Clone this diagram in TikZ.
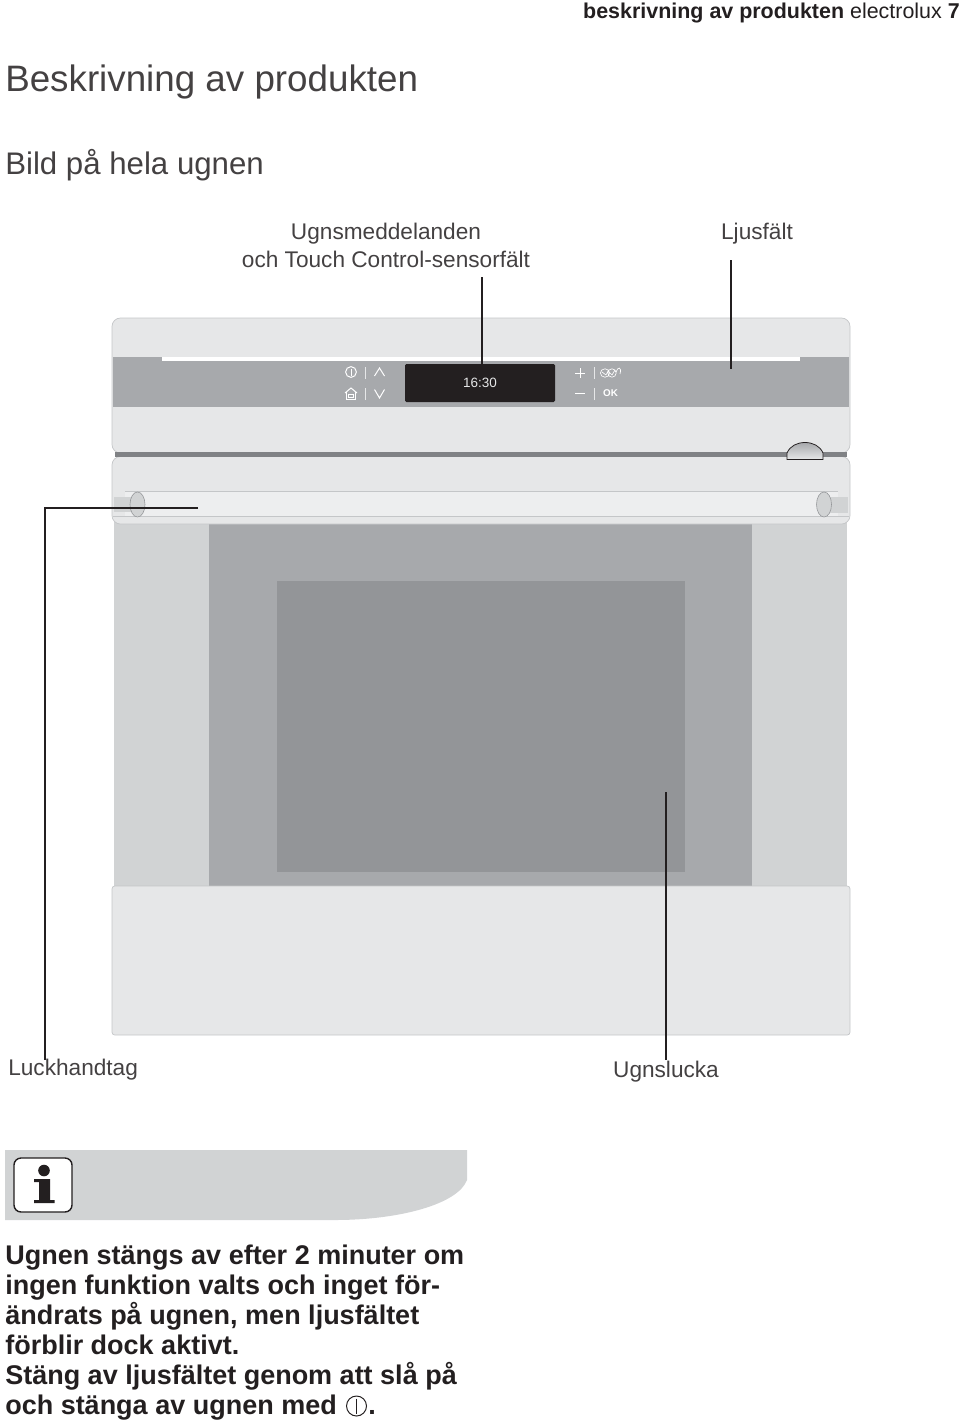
\documentclass[tikz,border=0pt]{standalone}
\usepackage{fontspec}
\setmainfont{Liberation Sans}
\usetikzlibrary{positioning,calc}
\definecolor{ovenpale}{HTML}{E6E7E8}
\definecolor{ovenedge}{HTML}{C4C6C8}
\definecolor{ovenside}{HTML}{D1D3D4}
\definecolor{ovenmid}{HTML}{A7A9AC}
\definecolor{ovendark}{HTML}{939598}
\definecolor{ovenbar}{HTML}{808285}
\definecolor{inkblack}{HTML}{231F20}
\tikzset{
  % text
  txt/.style={inner sep=0pt,anchor=base west,text=inkblack},
  title/.style={txt,text=inkblack!85,font=\fontsize{26.15}{30}\selectfont},
  subtitle/.style={txt,text=inkblack!85,font=\fontsize{22.2}{28}\selectfont},
  lbl/.style={txt,anchor=base,text=inkblack!85,font=\fontsize{16.1}{20}\selectfont},
  body/.style={txt,font=\fontsize{19.2}{23}\selectfont\bfseries},
  % oven
  panel/.style={fill=ovenpale,draw=ovenedge,line width=0.5pt},
  rib/.style={draw=ovenedge,line width=0.5pt},
  knob/.style={fill=ovenside,draw=ovendark,line width=0.4pt},
  key/.style={draw=white,line width=0.7pt},
  sep/.style={draw=ovenpale,line width=0.7pt},
  % ledare
  leader/.style={draw=inkblack,line width=1.1pt},
}
\begin{document}
\begin{tikzpicture}[x=0.25mm,y=-0.25mm]
  \useasboundingbox (0,0) rectangle (960,1424);
  % rubriker
  \node[txt,anchor=base east,font=\fontsize{15.25}{18}\selectfont] (head) at (960,19)
    {\textbf{beskrivning av produkten} electrolux \textbf{7}};
  \node[title] (title) at (5,91.5) {Beskrivning av produkten};
  \node[subtitle] (sub) at (5,174.5) {Bild på hela ugnen};
  % underdel
  \fill[ovenside] (114,522) rectangle (847,888);
  \fill[ovenmid] (209,522) rectangle (752,888);
  \fill[ovendark] (277,581) rectangle (685,872);
  \draw[panel,rounded corners=2pt] (112,1035) -- (112,886) -- (850,886) -- (850,1035) -- cycle;
  % kontrollpanel
  \draw[panel,rounded corners=6pt] (112,453) -- (112,318) -- (850,318) -- (850,453) -- cycle;
  \fill[ovenmid] (113,357) rectangle (849,407);
  \fill[ovenpale] (162,350) rectangle (800,357);
  \fill[white] (162,357) rectangle (800,361);
  \fill[inkblack,rounded corners=1pt] (405,364) rectangle (555,402);
  \node[inner sep=0pt,text=ovenpale,font=\fontsize{9.6}{12}\selectfont] (clock) at (480,383) {16:30};
  % knappar
  \draw[key] (351,372) circle (5.4); \draw[key] (351,368.5) -- (351,375.5);
  \draw[key] (345,393) -- (351,388) -- (357,393) (346.5,392) -- (346.5,399.5) -- (355.5,399.5) -- (355.5,392)
    (348.5,394.5) rectangle (353.5,397.5);
  \draw[sep] (365.5,367) -- (365.5,379); \draw[sep] (365.5,388) -- (365.5,400);
  \draw[key] (374.5,376) -- (379.5,368) -- (384.5,376);
  \draw[key] (374.5,389.5) -- (379.5,398) -- (384.5,389.5);
  \draw[key] (575,373) -- (585,373) (580,368) -- (580,378);
  \draw[key] (575,393.5) -- (585,393.5);
  \draw[sep] (594.5,367) -- (594.5,379); \draw[sep] (594.5,388) -- (594.5,400);
  \draw[key,line width=0.45pt] (605,373) ellipse (4.6 and 4.2) (612,373) ellipse (4.2 and 4.2)
    (602,372) -- (606,375) -- (608,371) -- (612,375) -- (615,370) (616,372) .. controls (618,366) and (622,367) .. (620,374);
  \node[inner sep=0pt,text=white,font=\fontsize{7}{8}\selectfont\bfseries] (ok) at (610.5,393.5) {OK};
  % lucka
  \draw[panel,rounded corners=6pt] (112,456.5) -- (850,456.5) -- (850,524) -- (112,524) -- cycle;
  \fill[ovenbar] (115,452) rectangle (847,456.5);
  \fill[ovenpale!70!white] (125,492) rectangle (838,517);
  \draw[rib] (125,491.5) -- (838,491.5) (113,516.5) -- (849,516.5);
  \fill[ovenside] (114,497) rectangle (132,512);
  \fill[ovenside] (830,497) rectangle (848,513);
  \draw[knob] (137.5,504.5) ellipse (7.5 and 12.5);
  \draw[knob] (824,504.5) ellipse (7.5 and 12.5);
  \draw[inkblack,line width=0.55pt,top color=ovenmid,bottom color=ovenpale]
    (787,459.5) -- (787,453) .. controls (790,446) and (797,442.5) .. (805,442.5)
    .. controls (813,442.5) and (820,446) .. (823,453) -- (823,459.5) -- cycle;
  % ledare
  \node[lbl] (msg1) at (386,239) {Ugnsmeddelanden};
  \node[lbl] (msg2) at (386,267) {och Touch Control-sensorfält};
  \node[lbl] (light) at (757,239) {Ljusfält};
  \node[lbl,anchor=base west] (handle) at (8,1075) {Luckhandtag};
  \node[lbl] (door) at (666,1077) {Ugnslucka};
  \coordinate (msgtop) at (482,277);  \coordinate (msgend) at (482,378);
  \coordinate (lighttop) at (731,260); \coordinate (lightend) at (731,369);
  \coordinate (handleend) at (198,508); \coordinate (handlecor) at (45,508); \coordinate (handlebot) at (45,1060);
  \coordinate (doorend) at (666,792);  \coordinate (doorbot) at (666,1060);
  \draw[leader] (msgtop) -- (msgend);
  \draw[leader] (lighttop) -- (lightend);
  \draw[leader] (handleend) -- (handlecor) -- (handlebot);
  \draw[leader] (doorend) -- (doorbot);
  % info
  \fill[ovenside] (5,1150) -- (467,1150) -- (467,1180) .. controls (458,1204) and (400,1220) .. (335,1220) -- (5,1220) -- cycle;
  \draw[inkblack,fill=white,line width=1pt,rounded corners=5pt] (14,1158) rectangle (72,1212);
  \fill[inkblack] (44,1170.5) circle (5.8);
  \fill[inkblack] (34,1179) -- (50,1179) -- (50,1200) -- (54.5,1200) -- (54.5,1203) -- (34,1203) -- (34,1200) -- (39,1200) -- (39,1182) -- (34,1182) -- cycle;
  \node[body] (t1) at (5,1264) {Ugnen stängs av efter 2 minuter om};
  \node[body] (t2) at (5,1294) {ingen funktion valts och inget för-};
  \node[body] (t3) at (5,1324) {ändrats på ugnen, men ljusfältet};
  \node[body] (t4) at (5,1354) {förblir dock aktivt.};
  \node[body] (t5) at (5,1384) {Stäng av ljusfältet genom att slå på};
  \node[body] (t6) at (5,1414) {och stänga av ugnen med};
  \node[circle,draw=inkblack,line width=0.7pt,minimum size=5mm,inner sep=0pt] (pwr) at (356.5,1406) {};
  \draw[inkblack,line width=0.7pt] (pwr.north) ++(0,3) -- ($(pwr.south)+(0,-3)$);
  \node[body] (dot) at (368,1414) {.};
\end{tikzpicture}
\end{document}
